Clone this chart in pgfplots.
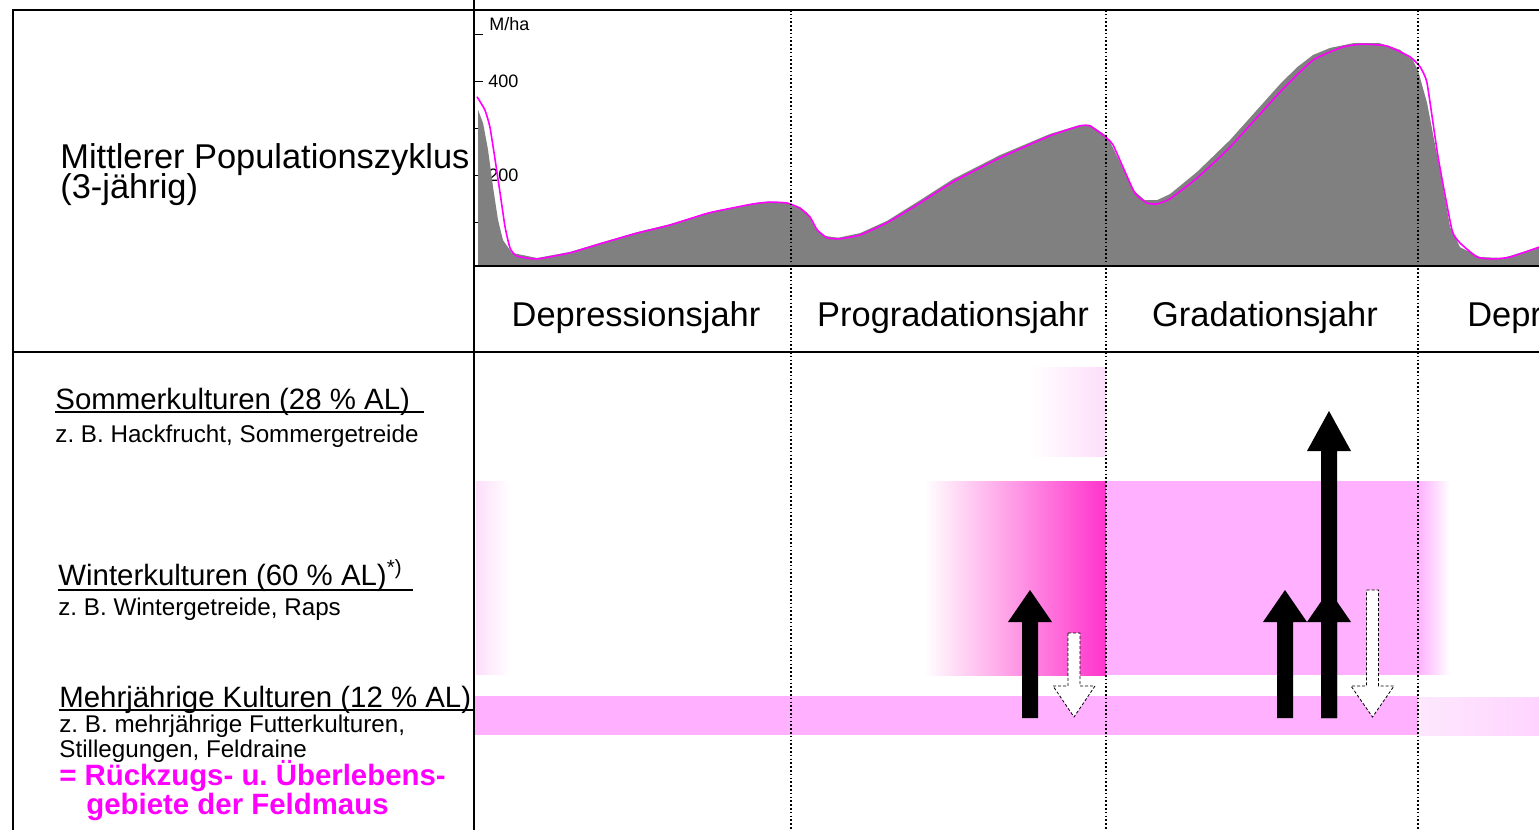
\documentclass[border=0pt]{standalone}
\usepackage{pgfplots}
\pgfplotsset{compat=1.18}
\usepackage{pgfplotstable}
\usepackage{fontspec}
\setmainfont{Liberation Sans}
\frenchspacing

\definecolor{curvegray}{RGB}{128,128,128}
\definecolor{mag}{RGB}{255,0,255}
\definecolor{pinkL}{RGB}{255,176,255}
\definecolor{pinkD}{RGB}{255,51,204}
\definecolor{pinkVL}{RGB}{253,222,250}
\definecolor{pinkR}{RGB}{255,212,255}
\definecolor{pinkRL}{RGB}{253,232,253}

\newcommand\fbig{\fontsize{17.2}{20}\selectfont}
\newcommand\fhead{\fontsize{14.7}{17}\selectfont}
\newcommand\fsub{\fontsize{12.1}{14}\selectfont}

% population density (M/ha) over months of the 3-year cycle
\pgfplotstableread{
m v
0.08 340
0.27 312
0.46 255
0.65 176
0.84 106
1.03 63
1.37 36
2.33 25
3.59 38
4.85 59
6.15 80
7.40 97
8.89 122
10.57 141
11.22 145
11.87 142
12.37 133
12.67 119
12.94 89
13.32 72
13.82 68
14.66 78
15.69 104
16.95 148
18.21 193
20.00 244
21.91 289
23.05 308
23.44 308
23.97 289
24.20 272
24.58 229
25.08 170
25.53 148
25.99 148
26.49 161
27.52 208
28.78 276
30.69 395
31.34 431
31.95 457
32.60 472
33.47 482
34.50 482
35.27 468
35.76 446
35.95 425
36.30 355
36.79 212
37.18 91
37.56 48
38.32 27
39.20 25
40.57 48
}\graycurve

\pgfplotstableread{
m v
0.04 368
0.34 340
0.53 304
0.73 234
0.92 163
1.11 91
1.30 46
1.56 29
2.33 23
3.59 36
4.85 57
6.15 78
7.40 95
8.89 121
10.57 140
11.22 144
11.87 142
12.37 131
12.75 112
13.02 85
13.40 68
13.89 66
14.66 74
15.69 100
16.95 142
18.21 187
20.00 238
21.91 285
23.05 306
23.44 306
24.08 280
24.31 266
24.69 219
25.15 163
25.61 142
25.99 140
26.49 151
27.52 195
28.78 261
30.69 378
31.95 446
33.09 474
33.85 480
34.77 476
35.65 453
36.03 432
36.30 397
36.72 240
37.25 85
37.56 57
38.21 27
38.82 23
39.47 27
40.57 48
}\magcurve

\begin{document}
\begin{tikzpicture}
\useasboundingbox (0,0) rectangle (769.5pt,415pt);

% curve panel
\begin{axis}[
    at={(237pt,282pt)}, anchor=south west,
    scale only axis, width=532.5pt, height=128pt,
    xmin=-0.076, xmax=40.573, ymin=8, ymax=552.7,
    axis x line=none, axis y line=left,
    y axis line style={draw=none},
    ytick={100,200,300,400,500},
    yticklabels={,200,,400,},
    tick align=inside, major tick length=4.5pt,
    tick style={black, line width=0.5pt},
    yticklabel style={anchor=west, xshift=3.6pt, font=\fontsize{9}{10}\selectfont},
    no markers,
]
\addplot[fill=curvegray, draw=none] table[x=m, y=v] {\graycurve} \closedcycle;
\addplot[mag, line width=0.8pt, smooth, tension=0.3] table[x=m, y=v] {\magcurve};
\node[anchor=west, inner sep=0, font=\fontsize{9}{10}\selectfont] at (rel axis cs:0.0141,0.945) {M/ha};
\end{axis}

% layout panel in pixel units
\begin{axis}[
    at={(0,0)}, anchor=south west,
    scale only axis, width=769.5pt, height=415pt,
    xmin=0, xmax=1539, ymin=0, ymax=830, y dir=reverse,
    hide axis, no markers,
]
% crop bands
\addplot[draw=none, left color=white, right color=pinkVL] coordinates {(1030,367) (1106,367) (1106,456) (1030,456)};
\addplot[draw=none, left color=pinkVL, right color=white] coordinates {(476,481) (510,481) (510,674) (476,674)};
\addplot[draw=none, left color=white, right color=pinkD] coordinates {(924,481) (1106,481) (1106,675) (924,675)};
\addplot[draw=none, fill=pinkL] coordinates {(1106,481) (1418,481) (1418,675) (1106,675)};
\addplot[draw=none, left color=pinkL, right color=white] coordinates {(1418,481) (1450,481) (1450,674) (1418,674)};
\addplot[draw=none, fill=pinkL] coordinates {(475,696) (1418,696) (1418,735) (475,735)};
\addplot[draw=none, left color=pinkRL, right color=pinkR] coordinates {(1418,697) (1539,697) (1539,735) (1418,735)};

% arrows
\addplot[fill=black, draw=none] coordinates {(1022,718) (1038,718) (1038,622) (1052,622) (1030,590) (1008,622) (1022,622)};
\addplot[fill=black, draw=none] coordinates {(1277,718) (1293,718) (1293,622) (1307,622) (1285,590) (1263,622) (1277,622)};
\addplot[fill=black, draw=none] coordinates {(1321,718) (1337,718) (1337,622) (1351,622) (1329,590) (1307,622) (1321,622)};
\addplot[fill=black, draw=none] coordinates {(1321,718) (1337,718) (1337,451) (1351,451) (1329,411) (1307,451) (1321,451)};
\addplot[fill=white, draw=black, line width=0.4pt, dash pattern=on 1.5pt off 1pt] coordinates {(1068,633) (1080,633) (1080,686) (1095,686) (1074,717) (1053,686) (1068,686) (1068,633)};
\addplot[fill=white, draw=black, line width=0.4pt, dash pattern=on 1.5pt off 1pt] coordinates {(1366.5,590) (1378.5,590) (1378.5,686) (1394,686) (1372.5,717) (1351,686) (1366.5,686) (1366.5,590)};

% year separators
\foreach \xx in {791,1106,1418} {
  \edef\temp{\noexpand\draw[black, line width=0.55pt, dash pattern=on 0.8pt off 1.1pt] (\xx,10) -- (\xx,830);}
  \temp
}

% frame
\draw[black, line width=0.7pt] (13,830) -- (13,10) -- (1539,10);
\draw[black, line width=0.7pt] (474,0) -- (474,830);
\draw[black, line width=0.7pt] (13,352) -- (1539,352);
\draw[black, line width=0.7pt] (474,266) -- (1539,266);

% headings
\node[anchor=base west, inner sep=0, font=\fbig] at (60,168) {Mittlerer Populationszyklus};
\node[anchor=base west, inner sep=0, font=\fbig] at (60,198) {(3-jährig)};
\node[anchor=base, inner sep=0, font=\fbig] at (636,326) {Depressionsjahr};
\node[anchor=base, inner sep=0, font=\fbig] at (953,326) {Progradationsjahr};
\node[anchor=base, inner sep=0, font=\fbig] at (1265,326) {Gradationsjahr};
\node[anchor=base west, inner sep=0, font=\fbig] at (1467,326) {Depressionsjahr};

% crop groups
\node[anchor=base west, inner sep=0, font=\fhead] at (55,409) {Sommerkulturen (28 \% AL)};
\draw[black, line width=0.6pt] (55,412) -- (424,412);
\node[anchor=base west, inner sep=0, font=\fsub] at (55,442) {z. B. Hackfrucht, Sommergetreide};
\node[anchor=base west, inner sep=0, font=\fhead] at (58,585) {Winterkulturen (60 \% AL)\textsuperscript{*)}};
\draw[black, line width=0.6pt] (58,590) -- (413,590);
\node[anchor=base west, inner sep=0, font=\fsub] at (58,615) {z. B. Wintergetreide, Raps};
\node[anchor=base west, inner sep=0, font=\fhead] at (59,707) {Mehrjährige Kulturen (12 \% AL)};
\draw[black, line width=0.6pt] (59,710) -- (474,710);
\node[anchor=base west, inner sep=0, font=\fsub] at (59,732) {z. B. mehrjährige Futterkulturen,};
\node[anchor=base west, inner sep=0, font=\fsub] at (59,757) {Stillegungen, Feldraine};
\node[anchor=base west, inner sep=0, font=\fhead\bfseries, text=mag] at (59,785) {= Rückzugs- u. Überlebens-};
\node[anchor=base west, inner sep=0, font=\fhead\bfseries, text=mag] at (86,814) {gebiete der Feldmaus};
\end{axis}
\end{tikzpicture}
\end{document}
